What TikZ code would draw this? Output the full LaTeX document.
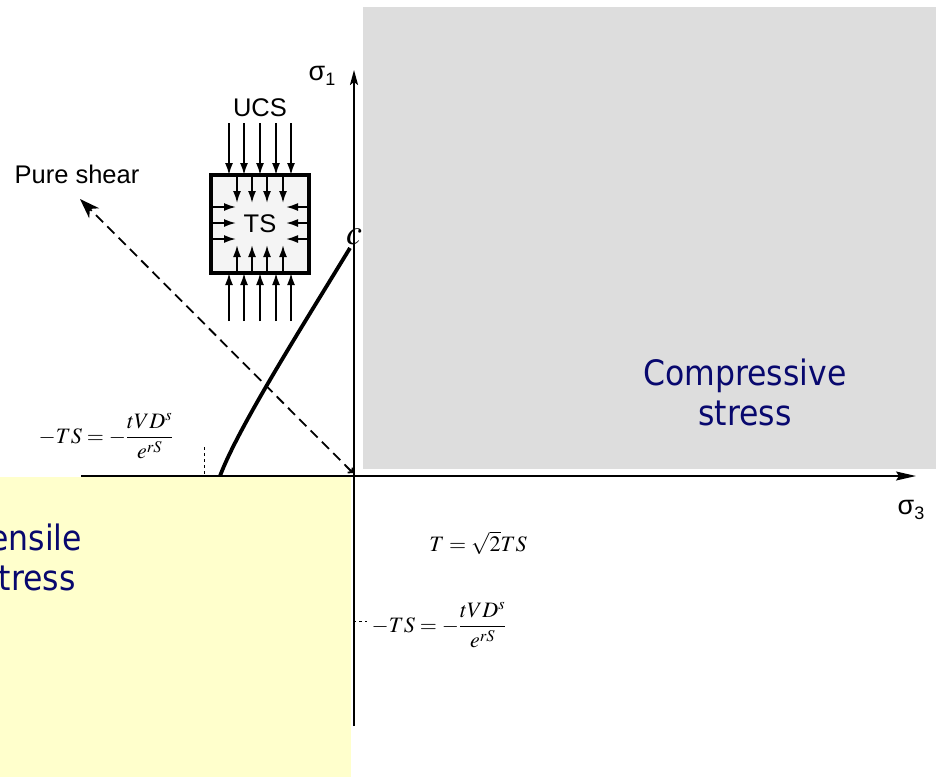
\documentclass[tikz,border=0pt]{standalone}
\usepackage{mathptmx}
\usepackage[no-math]{fontspec}
\setmainfont{Liberation Sans}
\newfontfamily\tahfont{DejaVu Sans Condensed}
\usetikzlibrary{arrows.meta}
\definecolor{graybg}{RGB}{221,221,221}
\definecolor{yellowbg}{RGB}{255,255,204}
\definecolor{navytext}{RGB}{8,8,110}
\definecolor{boxfill}{RGB}{244,244,244}
\tikzset{
  axisline/.style={line width=1.4pt},
  vaxisline/.style={line width=2pt},
  curveline/.style={line width=3.8pt},
  shearline/.style={line width=1.8pt, dash pattern=on 10pt off 6pt},
  tickdash/.style={line width=1pt, dash pattern=on 3pt off 3pt},
  sarrow/.style={line width=1.8pt, -{Latex[length=12pt,width=8pt]}},
  labelfont/.style={font=\fontsize{25.5}{29}\selectfont},
  bigtext/.style={font=\tahfont\fontsize{35}{40}\selectfont, text=navytext, align=center},
  eqfont/.style={font=\fontsize{22}{26}\selectfont},
}
\begin{document}
\begin{tikzpicture}[x=1pt,y=-1pt]
\useasboundingbox (0,0) rectangle (939,777);
\clip (0,0) rectangle (939,777);
% regions
\fill[graybg] (363,7) rectangle (936,469);
\fill[yellowbg] (0,477) rectangle (351,777);
\node[bigtext] (comp) at (745,392) {Compressive\\stress};
\node[bigtext] (tens) at (29,557) {Tensile\\stress};
% axes
\coordinate (O) at (354,476);
\coordinate (xl) at (81,476);
\coordinate (xr) at (916,476);
\coordinate (yb) at (354,726);
\coordinate (yt) at (354,70);
\draw[axisline, -{Stealth[length=20pt,width=9pt,inset=3pt]}] (xl) -- (xr);
\draw[vaxisline, -{Stealth[length=15pt,width=8pt,inset=3pt]}] (yb) -- (yt);
\node[font=\fontsize{27}{30}\selectfont] (s1) at (322,76) {σ\raisebox{-0.35ex}{\fontsize{18}{20}\selectfont 1}};
\node[font=\fontsize{27}{30}\selectfont] (s3) at (911,510) {σ\raisebox{-0.35ex}{\fontsize{18}{20}\selectfont 3}};
% pure shear
\node[labelfont] (ps) at (77,174) {Pure shear};
\coordinate (O2) at (353,473);
\coordinate (PS) at (80,199);
\draw[shearline, {Straight Barb[length=3pt,width=7pt]}-{Stealth[length=20pt,width=14pt,inset=6pt]}] (O2) -- (PS);
% failure curve
\coordinate (cb) at (220,476);
\coordinate (ct) at (350,248);
\draw[curveline] (cb) .. controls (238,428) and (300,330) .. (ct);
\node[font=\fontsize{36}{40}\selectfont, inner sep=0pt] (c) at (354,237) {$c$};
% dashed ticks
\coordinate (t1a) at (204,447);
\coordinate (t1b) at (204,474);
\draw[tickdash] (t1a) -- (t1b);
\coordinate (t2a) at (353,621);
\coordinate (t2b) at (367,621);
\draw[tickdash] (t2a) -- (t2b);
% equations
\node[eqfont] (eq1) at (106,436) {$\displaystyle -TS=-\frac{tVD^{s}}{e^{rS}}$};
\node[eqfont] (eq2) at (439,625) {$\displaystyle -TS=-\frac{tVD^{s}}{e^{rS}}$};
\node[eqfont] (eq3) at (478,543) {$T=\sqrt{2}TS$};
% UCS box
\node[labelfont] (ucs) at (260,108) {UCS};
\node[draw, line width=3.5pt, fill=boxfill, minimum width=98pt, minimum height=98pt, inner sep=0pt, labelfont] (box) at (260,224) {TS};
\foreach \x in {229,244,260,276,291} {
  \draw[sarrow] (\x,123) -- (\x,175);
  \draw[sarrow] (\x,321) -- (\x,273);
}
\foreach \x in {237,252,267,283} {
  \draw[sarrow] (\x,175) -- (\x,203);
  \draw[sarrow] (\x,273) -- (\x,245);
}
\foreach \y in {207,223,239} {
  \draw[sarrow] (211,\y) -- (236,\y);
  \draw[sarrow] (309,\y) -- (286,\y);
}
\end{tikzpicture}
\end{document}
